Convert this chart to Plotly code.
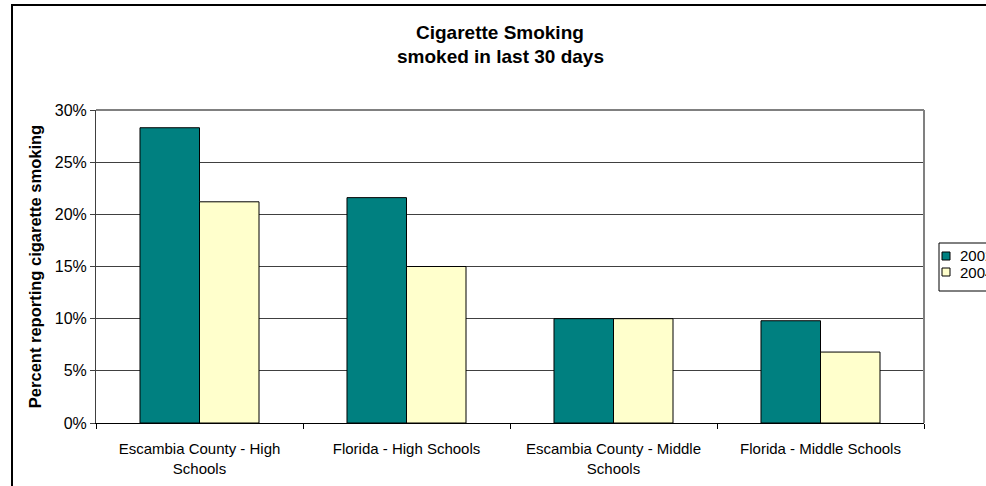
import plotly.graph_objects as go

categories = ["Escambia County - High<br>Schools", "Florida - High Schools",
              "Escambia County - Middle<br>Schools", "Florida - Middle Schools"]
series_names = ["2002", "2004"]
values_first = [0.283, 0.216, 0.100, 0.098]
values_second = [0.212, 0.150, 0.100, 0.068]
colors = ["#008080", "#FFFFCC"]
y_ticks = [0, 0.05, 0.10, 0.15, 0.20, 0.25, 0.30]

W, H = 986, 486
L, R, T, B = 96, 62, 110, 63
pw, ph = W - L - R, H - T - B

def px(x):
    return (x - L) / pw

def py(y):
    return (H - B - y) / ph

fig = go.Figure()
for name, vals, col in zip(series_names, [values_first, values_second], colors):
    fig.add_trace(go.Bar(x=categories, y=vals, name=name,
                         marker=dict(color=col, line=dict(color="black", width=1)),
                         showlegend=False))

font = "Liberation Sans, Arial, sans-serif"
shapes = [
    dict(type="rect", xref="paper", yref="paper", x0=px(12), y0=py(500), x1=px(1000), y1=py(5),
         line=dict(color="black", width=2), layer="below"),
    dict(type="line", xref="paper", yref="paper", x0=0, x1=1, y0=1, y1=1,
         line=dict(color="#808080", width=2)),
    dict(type="line", xref="paper", yref="paper", x0=1, x1=1, y0=0, y1=1,
         line=dict(color="#808080", width=2)),
    dict(type="rect", xref="paper", yref="paper", x0=px(939), y0=py(291), x1=px(1000), y1=py(243),
         line=dict(color="black", width=1), fillcolor="white"),
]
annotations = [
    dict(text="<b>Cigarette Smoking</b>", xref="paper", yref="paper", x=px(500), y=py(32),
         showarrow=False, font=dict(family=font, size=19, color="black"), xanchor="center", yanchor="middle"),
    dict(text="<b>smoked in last 30 days</b>", xref="paper", yref="paper", x=px(500), y=py(57),
         showarrow=False, font=dict(family=font, size=19, color="black"), xanchor="center", yanchor="middle"),
]
for i, (name, col) in enumerate(zip(series_names, colors)):
    cy = 256 + 16 * i
    shapes.append(dict(type="rect", xref="paper", yref="paper", x0=px(942), x1=px(950),
                       y0=py(cy + 4), y1=py(cy - 4), fillcolor=col, line=dict(color="black", width=1)))
    annotations.append(dict(text=name, xref="paper", yref="paper", x=px(958), y=py(cy),
                            showarrow=False, xanchor="left", yanchor="middle",
                            font=dict(family=font, size=15, color="black")))

fig.update_layout(
    width=W, height=H, margin=dict(l=L, r=R, t=T, b=B, autoexpand=False),
    paper_bgcolor="white", plot_bgcolor="white",
    barmode="group", bargap=0.425, bargroupgap=0,
    font=dict(family=font, color="black"),
    shapes=shapes, annotations=annotations,
    xaxis=dict(showline=True, linecolor="black", linewidth=1, ticks="outside", tickson="boundaries",
               ticklen=5, tickcolor="black", tickfont=dict(size=15), ticklabelstandoff=12,
               showgrid=False, automargin=False),
    yaxis=dict(range=[0, 0.30], tickvals=y_ticks, tickformat=".0%", showline=True, linecolor="#404040",
               linewidth=1, ticks="outside", ticklen=5, tickcolor="#404040", showgrid=True,
               gridcolor="#404040", gridwidth=1, tickfont=dict(size=16), automargin=False,
               title=dict(text="<b>Percent reporting cigarette smoking</b>", font=dict(size=16.5), standoff=8),
               zeroline=False),
)
fig.write_html("out.html", config={"displayModeBar": False},
               post_script="document.body.style.margin='0';document.body.style.overflow='hidden';")
